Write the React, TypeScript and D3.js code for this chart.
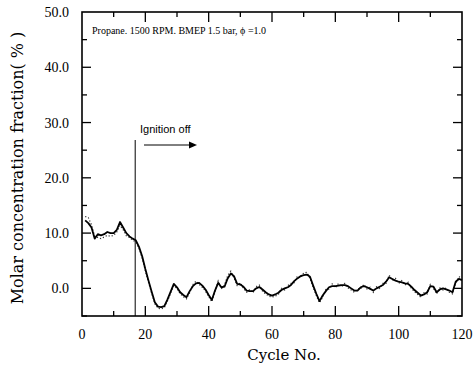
import React from "react";
import * as d3 from "d3";

// Molar concentration fraction (%) per engine cycle, measured trace and sampled points
const cycles: number[] = d3.range(1, 121);
const measured: number[] = [
  12.3, 11.8, 11.0, 9.0, 9.8, 9.6, 9.8, 10.2, 10.0, 10.0,
  10.6, 12.0, 11.0, 10.0, 9.4, 9.0, 8.7, 7.5, 5.8, 3.5,
  1.4, -0.6, -2.5, -3.3, -3.4, -3.2, -2.0, -0.6, 0.8, 0.2,
  -0.7, -1.2, -1.6, -0.5, 0.4, 0.9, 1.0, 0.5, -0.2, -1.2,
  -2.1, -0.4, 1.0, 0.2, 0.3, 1.8, 2.7, 2.2, 0.8, 0.7,
  0.3, -0.4, -0.5, -0.5, 0.0, 0.25, -0.2, -0.7, -1.1, -1.3,
  -1.1, -0.8, -0.3, 0.0, 0.2, 0.6, 1.3, 1.8, 2.2, 2.4,
  2.5, 2.1, 0.5, -1.0, -2.3, -1.3, -0.5, 0.2, 0.4, 0.4,
  0.5, 0.6, 0.6, 0.4, 0.0, -0.4, -0.4, 0.2, 0.4, 0.2,
  -0.1, -0.4, 0.0, 0.3, 0.6, 1.2, 2.0, 1.7, 1.4, 1.2,
  1.1, 0.9, 0.8, 0.3, -0.3, -0.8, -1.3, -1.1, -0.7, 0.4,
  0.3, -0.7, -0.2, 0.0, -0.2, -0.4, -0.7, 1.2, 1.7, 1.5,
];
const sampled: number[] = [
  13.0, 12.8, 11.5, 9.4, 9.2, 9.0, 9.3, 9.6, 9.4, 9.6,
  10.2, 11.4, 10.6, 9.5, 9.2, 8.7, 8.4, 7.2, 5.5, 3.2,
  1.1, -0.9, -2.8, -3.6, -3.7, -3.5, -2.3, -0.9, 0.5, 0.0,
  -1.0, -1.5, -1.9, -0.8, 0.7, 1.3, 0.7, 0.2, -0.5, -1.5,
  -2.4, -0.7, 1.3, -0.1, 0.6, 2.3, 3.1, 1.9, 0.5, 1.0,
  0.0, -0.7, -0.2, -0.8, 0.3, 0.6, -0.5, -1.0, -1.4, -1.6,
  -1.4, -1.1, 0.0, -0.3, 0.5, 0.9, 1.0, 2.2, 1.9, 2.8,
  2.9, 1.8, 0.2, -1.3, -2.6, -1.6, -0.2, -0.1, 0.8, 0.1,
  0.9, 0.3, 0.9, 0.1, -0.3, -0.7, -0.1, -0.1, 0.7, -0.1,
  0.2, -0.7, 0.3, 0.0, 0.9, 0.9, 2.4, 1.4, 1.8, 0.9,
  1.4, 0.6, 1.1, 0.0, -0.6, -1.1, -1.6, -0.8, -1.0, 0.7,
  0.0, -1.0, 0.1, -0.3, 0.1, -0.7, -1.0, 0.9, 2.1, 1.9,
];

const xTickValues: number[] = [0, 20, 40, 60, 80, 100, 120];
const yTickValues: number[] = [0, 10, 20, 30, 40, 50];
const ignitionOffCycle = 16.8;
const conditionText = "Propane. 1500 RPM. BMEP 1.5 bar, \u03d5 =1.0";

const W = 473;
const H = 365;
const left = 82, right = 462, top = 12, bottom = 316;

export default function App() {
  const x = d3.scaleLinear().domain([0, 120]).range([left, right]);
  const y = d3.scaleLinear().domain([-5, 50]).range([bottom, top]);

  const line = d3
    .line<number>()
    .x((_, i) => x(cycles[i]))
    .y((d) => y(d));

  const minorX = d3.range(10, 120, 10);
  const minorY = d3.range(-5, 50, 5);
  const serif = "'Liberation Serif', 'Times New Roman', serif";

  return (
    <svg
      width={W}
      height={H}
      style={{ position: "absolute", left: 0, top: 0, background: "#fff" }}
    >
      {/* frame */}
      <rect
        x={left}
        y={top}
        width={right - left}
        height={bottom - top}
        fill="none"
        stroke="#000"
        strokeWidth={1.6}
      />
      {/* y ticks, left and right */}
      {minorY.map((v) => {
        const major = v % 10 === 0;
        const len = major ? 9 : 5;
        return (
          <g key={"y" + v}>
            <line x1={left} x2={left + len} y1={y(v)} y2={y(v)} stroke="#000" strokeWidth={1.3} />
            <line x1={right} x2={right - len} y1={y(v)} y2={y(v)} stroke="#000" strokeWidth={1.3} />
          </g>
        );
      })}
      {/* x ticks, bottom and top */}
      {minorX.map((v) => {
        const major = v % 20 === 0;
        const len = major ? 10 : 5;
        return (
          <g key={"x" + v}>
            <line x1={x(v)} x2={x(v)} y1={bottom} y2={bottom - len} stroke="#000" strokeWidth={1.3} />
            <line x1={x(v)} x2={x(v)} y1={top} y2={top + len} stroke="#000" strokeWidth={1.3} />
          </g>
        );
      })}
      {/* tick labels */}
      {yTickValues.map((v) => (
        <text
          key={"yl" + v}
          x={left - 13}
          y={y(v) + 5}
          textAnchor="end"
          fontFamily={serif}
          fontSize={14}
        >
          {v.toFixed(1)}
        </text>
      ))}
      {xTickValues.map((v) => (
        <text
          key={"xl" + v}
          x={x(v)}
          y={bottom + 23}
          textAnchor="middle"
          fontFamily={serif}
          fontSize={14}
        >
          {v}
        </text>
      ))}
      {/* axis titles */}
      <text
        x={(left + right) / 2 + 12}
        y={360}
        textAnchor="middle"
        fontFamily="'DejaVu Serif', serif"
        fontSize={15}
      >
        Cycle No.
      </text>
      <text
        transform={`translate(23, ${(top + bottom) / 2 + 4}) rotate(-90)`}
        textAnchor="middle"
        fontFamily="'DejaVu Serif', serif"
        fontSize={16}
      >
        Molar concentration fraction( % )
      </text>
      {/* operating condition */}
      <text x={92} y={34} fontFamily={serif} fontSize={10}>
        {conditionText}
      </text>
      {/* ignition off marker */}
      <line
        x1={x(ignitionOffCycle)}
        x2={x(ignitionOffCycle)}
        y1={140}
        y2={bottom}
        stroke="#000"
        strokeWidth={1}
      />
      <text x={140} y={133} fontFamily="'Liberation Sans', sans-serif" fontSize={11}>
        Ignition off
      </text>
      <line x1={144} x2={190} y1={145} y2={145} stroke="#000" strokeWidth={1} />
      <path d="M189,141.5 L197,145 L189,148.5 Z" fill="#000" />
      {/* sampled points */}
      <path
        d={line(sampled) || ""}
        fill="none"
        stroke="#333"
        strokeWidth={1.2}
        strokeDasharray="1.2 2"
      />
      {/* measured trace */}
      <path
        d={line(measured) || ""}
        fill="none"
        stroke="#000"
        strokeWidth={1.8}
        strokeLinejoin="round"
      />
    </svg>
  );
}
